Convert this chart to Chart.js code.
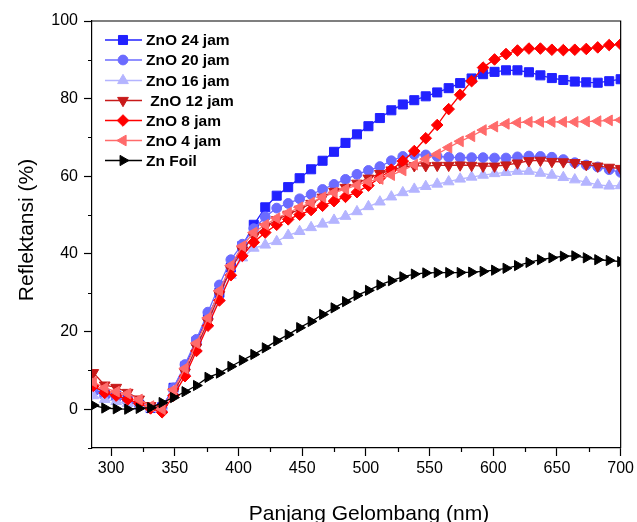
<!DOCTYPE html>
<html>
<head>
<meta charset="utf-8">
<title>Reflektansi ZnO</title>
<script src="https://cdn.jsdelivr.net/npm/chart.js@4.4.1/dist/chart.umd.min.js"></script>
<style>
  html, body { margin: 0; padding: 0; background: #fff; }
  #wrap { width: 637px; height: 522px; }
</style>
</head>
<body>
<div id="wrap"><canvas id="c" width="637" height="522"></canvas></div>
<script>
// Wavelength grid (nm)
const wavelengths = [286, 295, 304, 313, 322, 331, 340, 349, 358, 367, 376, 385, 394, 403, 412, 421,
  430, 439, 448, 457, 466, 475, 484, 493, 502, 511, 520, 529, 538, 547, 556, 565, 574, 583, 592,
  601, 610, 619, 628, 637, 646, 655, 664, 673, 682, 691, 700];

// Reflectance (%) per sample
const zno24 = [5.0, 4.0, 3.5, 2.5, 1.2, 0.3, 0.5, 5.5, 11.0, 17.5, 24.0, 30.0, 36.5, 42.0, 47.5, 52.0,
  55.0, 57.2, 59.5, 61.8, 64.0, 66.3, 68.6, 70.8, 72.9, 75.0, 77.0, 78.5, 79.6, 80.6, 81.6, 82.7, 84.0, 85.2, 86.3,
  86.9, 87.3, 87.3, 86.8, 86.0, 85.3, 84.8, 84.4, 84.2, 84.1, 84.5, 85.0];
const zno20 = [4.5, 3.5, 3.0, 2.2, 1.0, 0.3, 0.3, 5.5, 11.5, 18.0, 25.0, 32.0, 38.5, 42.5, 46.5, 49.5,
  51.8, 53.0, 54.2, 55.3, 56.6, 57.9, 59.2, 60.5, 61.5, 62.5, 64.0, 65.1, 65.6, 65.5, 65.1, 64.9, 64.8, 64.8, 64.8,
  64.7, 64.7, 65.0, 65.2, 65.1, 64.9, 64.3, 63.5, 62.9, 62.4, 61.7, 61.0];
const zno16 = [3.5, 2.5, 2.0, 1.5, 0.8, 0.2, 0.2, 4.5, 9.5, 15.5, 22.0, 28.5, 34.5, 39.0, 41.5, 42.3,
  43.2, 44.8, 45.8, 46.8, 47.7, 48.7, 49.7, 50.9, 52.2, 53.4, 54.7, 55.8, 56.7, 57.4, 58.0, 58.6, 59.3, 59.8, 60.3,
  60.7, 61.0, 61.3, 61.3, 60.8, 60.3, 59.7, 59.1, 58.5, 57.8, 57.5, 57.6];
const zno12 = [9.4, 6.2, 5.6, 4.3, 2.6, 0.9, 0.3, 4.5, 9.5, 16.0, 22.5, 29.5, 36.0, 41.0, 44.5, 47.0,
  48.8, 50.2, 51.5, 53.0, 54.6, 56.1, 57.1, 58.2, 59.5, 60.7, 61.6, 62.4, 62.7, 62.7, 62.8, 62.8, 62.9, 62.8, 62.6,
  62.6, 62.9, 63.4, 64.0, 64.1, 63.8, 63.7, 63.5, 63.0, 62.6, 62.3, 62.0];
const zno8 = [6.0, 4.2, 3.5, 2.5, 1.5, 0.2, -0.8, 3.5, 8.5, 15.0, 21.5, 28.0, 34.5, 39.5, 43.0, 45.5,
  47.5, 48.9, 50.1, 51.3, 52.4, 53.6, 54.7, 55.9, 57.6, 59.6, 61.7, 63.9, 66.5, 69.8, 73.2, 77.3, 81.0, 84.5, 88.0,
  90.1, 91.5, 92.4, 92.9, 92.9, 92.6, 92.5, 92.6, 92.8, 93.2, 93.8, 94.0];
const zno4 = [7.0, 5.5, 4.5, 4.0, 2.5, 0.8, 0.0, 5.0, 10.5, 17.0, 23.5, 30.5, 37.0, 42.0, 45.5, 47.5,
  49.2, 50.6, 52.0, 53.2, 54.6, 55.8, 56.7, 57.7, 58.6, 59.3, 60.3, 61.5, 63.0, 64.4, 65.7, 67.4, 69.0, 70.3, 71.9,
  72.8, 73.5, 73.8, 74.0, 74.0, 74.0, 74.0, 74.0, 74.1, 74.2, 74.4, 74.5];
const znFoil = [1.0, 0.3, 0.1, 0.0, 0.2, 0.4, 1.7, 3.0, 4.5, 6.1, 8.2, 9.3, 11.0, 12.6, 14.1, 15.8,
  17.6, 19.2, 21.0, 22.6, 24.4, 26.1, 27.7, 29.3, 30.6, 32.0, 33.1, 34.1, 34.8, 35.1, 35.2, 35.2, 35.2, 35.3, 35.5,
  35.8, 36.3, 37.0, 37.8, 38.5, 39.0, 39.4, 39.5, 39.0, 38.5, 38.3, 38.0];

// Legend labels
const seriesNames = ['ZnO 24 jam', 'ZnO 20 jam', 'ZnO 16 jam', ' ZnO 12 jam', 'ZnO 8 jam', 'ZnO 4 jam', 'Zn Foil'];

// Axis ticks
const xTicks = [300, 350, 400, 450, 500, 550, 600, 650, 700];
const xMinorTicks = [325, 375, 425, 475, 525, 575, 625, 675];
const yTicks = [0, 20, 40, 60, 80, 100];
const yMinorTicks = [-10, 10, 30, 50, 70, 90];

const FONT = 'Arial, "Liberation Sans", sans-serif';

const styles = [
  { color: '#2121ff', pointStyle: 'rect', rotation: 0, radius: 6.4 },
  { color: '#6b6bff', pointStyle: 'circle', rotation: 0, radius: 4.9 },
  { color: '#b4b4ff', pointStyle: 'triangle', rotation: 0, radius: 6.2 },
  { color: '#c81a1a', pointStyle: 'triangle', rotation: 180, radius: 6.2 },
  { color: '#ff0000', pointStyle: 'rectRot', rotation: 0, radius: 5.8 },
  { color: '#ff6b6b', pointStyle: 'triangle', rotation: -90, radius: 6.2 },
  { color: '#000000', pointStyle: 'triangle', rotation: 90, radius: 5.9 }
];
const seriesValues = [zno24, zno20, zno16, zno12, zno8, zno4, znFoil];

const datasets = seriesValues.map((vals, i) => ({
  label: seriesNames[i],
  data: wavelengths.map((w, k) => ({ x: w, y: vals[k] })),
  borderColor: styles[i].color,
  backgroundColor: styles[i].color,
  borderWidth: 1.3,
  pointStyle: styles[i].pointStyle,
  pointRotation: styles[i].rotation,
  pointRadius: styles[i].radius,
  pointBorderWidth: 1,
  pointBackgroundColor: styles[i].color,
  pointBorderColor: styles[i].color,
  tension: 0,
  order: seriesValues.length - i
}));

// Frame, minor ticks, axis titles and the inline legend
const decorations = {
  id: 'decorations',
  afterDraw(chart) {
    const ctx = chart.ctx;
    const a = chart.chartArea;
    const xs = chart.scales.x, ys = chart.scales.y;
    ctx.save();
    ctx.strokeStyle = '#000';
    ctx.lineWidth = 1.2;
    ctx.beginPath();
    ctx.moveTo(a.left, a.top);
    ctx.lineTo(a.right, a.top);
    ctx.lineTo(a.right, a.bottom);
    xMinorTicks.forEach(v => {
      const px = Math.round(xs.getPixelForValue(v)) + 0.5;
      ctx.moveTo(px, a.bottom);
      ctx.lineTo(px, a.bottom + 4);
    });
    yMinorTicks.forEach(v => {
      const py = Math.round(ys.getPixelForValue(v)) + 0.5;
      ctx.moveTo(a.left - 4, py);
      ctx.lineTo(a.left, py);
    });
    ctx.stroke();

    // axis titles
    ctx.fillStyle = '#000';
    ctx.font = '21px ' + FONT;
    ctx.textAlign = 'center';
    ctx.textBaseline = 'alphabetic';
    ctx.fillText('Panjang Gelombang (nm)', 369, 520);
    ctx.save();
    ctx.translate(33, 230);
    ctx.rotate(-Math.PI / 2);
    ctx.fillText('Reflektansi (%)', 0, 0);
    ctx.restore();

    // legend
    const lx0 = 105, lx1 = 142, lxm = 123, tx = 146;
    const rowY = [40, 60, 80.5, 100.5, 120.5, 140.5, 160.5];
    ctx.font = 'bold 15.5px ' + FONT;
    ctx.textAlign = 'left';
    ctx.textBaseline = 'middle';
    chart.data.datasets.forEach((ds, i) => {
      const y = rowY[i];
      ctx.strokeStyle = ds.borderColor;
      ctx.lineWidth = 1.5;
      ctx.beginPath();
      ctx.moveTo(lx0, y);
      ctx.lineTo(lx1, y);
      ctx.stroke();
      ctx.fillStyle = ds.pointBackgroundColor;
      ctx.strokeStyle = ds.pointBorderColor;
      ctx.lineWidth = 1;
      Chart.helpers.drawPoint(ctx, {
        pointStyle: ds.pointStyle,
        rotation: ds.pointRotation,
        radius: ds.pointRadius,
        borderWidth: 1
      }, lxm, y);
      ctx.fillStyle = '#000';
      ctx.fillText(ds.label, tx, y + 1);
    });
    ctx.restore();
  }
};

new Chart(document.getElementById('c'), {
  type: 'line',
  data: { datasets },
  options: {
    responsive: false,
    animation: false,
    devicePixelRatio: 1,
    layout: { padding: { top: 21, right: 16, left: 0, bottom: 0 } },
    plugins: { legend: { display: false }, tooltip: { enabled: false } },
    scales: {
      x: {
        type: 'linear',
        min: 285,
        max: 700,
        afterFit(s) { s.height = 74; },
        afterBuildTicks(s) { s.ticks = xTicks.map(v => ({ value: v })); },
        grid: { drawOnChartArea: false, tickLength: 8, tickColor: '#000', tickWidth: 1.2 },
        border: { color: '#000', width: 1.2 },
        ticks: { color: '#000', font: { family: FONT, size: 16 }, padding: 3, maxRotation: 0, autoSkip: false },
        title: { display: false }
      },
      y: {
        type: 'linear',
        min: -10,
        max: 100,
        afterFit(s) { s.width = 92; },
        afterBuildTicks(s) { s.ticks = yTicks.map(v => ({ value: v })); },
        grid: { drawOnChartArea: false, tickLength: 8, tickColor: '#000', tickWidth: 1.2 },
        border: { color: '#000', width: 1.2 },
        ticks: { color: '#000', font: { family: FONT, size: 16 }, padding: 6, autoSkip: false },
        title: { display: false }
      }
    }
  },
  plugins: [decorations]
});
</script>
</body>
</html>
